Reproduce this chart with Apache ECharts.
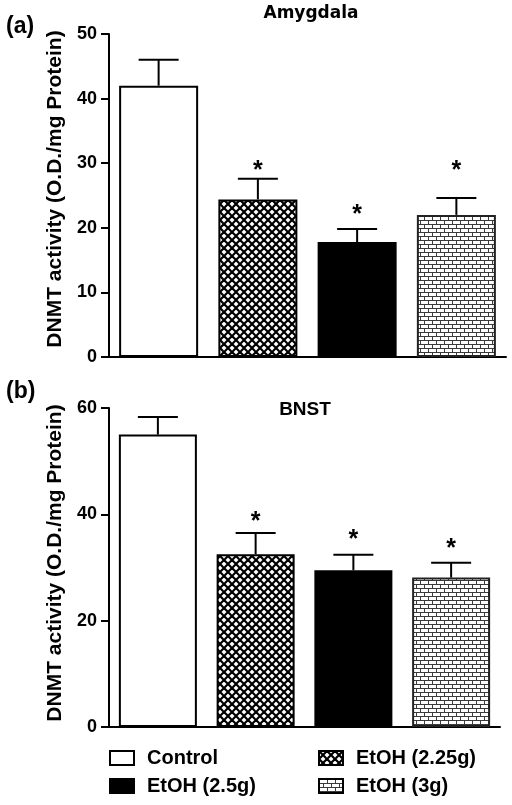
<!DOCTYPE html>
<html>
<head>
<meta charset="utf-8">
<script src="https://cdn.jsdelivr.net/npm/echarts@6/dist/echarts.min.js"></script>
<style>
html,body{margin:0;padding:0;background:#fff;}
#c{width:512px;height:805px;}
</style>
</head>
<body>
<div id="c"></div>
<script>
// ---- data ----
var groups = ['Control', 'EtOH (2.25g)', 'EtOH (2.5g)', 'EtOH (3g)'];
var amygdalaMean = [42.0, 24.4, 17.8, 22.0];
var amygdalaSem  = [4.0, 3.2, 2.0, 2.6];
var amygdalaStar = [null, 29.5, 22.8, 29.5];
var bnstMean = [55.0, 32.5, 29.5, 28.1];
var bnstSem  = [3.3, 4.0, 2.9, 2.8];
var bnstStar = [null, 39.5, 36.1, 34.4];
var amygdalaTicks = [0, 10, 20, 30, 40, 50];
var bnstTicks = [0, 20, 40, 60];
var yName = 'DNMT activity (O.D./mg Protein)';

// ---- patterns ----
function crossHatch() {
  var c = document.createElement('canvas'); c.width = 8; c.height = 8;
  var g = c.getContext('2d');
  g.fillStyle = '#fff'; g.fillRect(0, 0, 8, 8);
  g.strokeStyle = '#000'; g.lineWidth = 2.2;
  [-8, 0, 8].forEach(function (k) {
    g.beginPath(); g.moveTo(k, 0); g.lineTo(k + 8, 8); g.stroke();
    g.beginPath(); g.moveTo(k + 8, 0); g.lineTo(k, 8); g.stroke();
  });
  return { image: c, repeat: 'repeat' };
}
function brick() {
  var c = document.createElement('canvas'); c.width = 16; c.height = 8;
  var g = c.getContext('2d');
  g.fillStyle = '#fff'; g.fillRect(0, 0, 16, 8);
  g.fillStyle = '#3a3a3a';
  g.fillRect(0, 0, 16, 1); g.fillRect(0, 4, 16, 1);
  g.fillRect(0, 0, 1, 4); g.fillRect(8, 0, 1, 4);
  g.fillRect(4, 4, 1, 4); g.fillRect(12, 4, 1, 4);
  return { image: c, repeat: 'repeat' };
}
var fills = ['#ffffff', crossHatch(), '#000000', brick()];
var borders = ['#000', '#000', '#000', '#222'];

var FONT = 'Liberation Sans';

function barSeries(means, axisIdx, bw) {
  return groups.map(function (name, gi) {
    return {
      type: 'bar', name: name, xAxisIndex: axisIdx, yAxisIndex: axisIdx,
      barWidth: bw, barGap: '-100%',
      data: means.map(function (v, i) { return i === gi ? v : '-'; }),
      itemStyle: { color: fills[gi], borderColor: borders[gi], borderWidth: 2 },
      emphasis: { disabled: true }, animation: false
    };
  });
}
function errSeries(means, sems, stars, axisIdx) {
  return {
    type: 'custom', xAxisIndex: axisIdx, yAxisIndex: axisIdx, z: 5, animation: false,
    silent: true,
    data: means.map(function (m, i) { return [i, m, sems[i]]; }),
    renderItem: function (params, api) {
      var x = api.value(0), m = api.value(1), s = api.value(2);
      var p0 = api.coord([x, m]), p1 = api.coord([x, m + s]);
      var cw = 40;
      var ch = [
        { type: 'line', shape: { x1: p0[0], y1: p0[1], x2: p1[0], y2: p1[1] }, style: { stroke: '#000', lineWidth: 2 } },
        { type: 'line', shape: { x1: p1[0] - cw / 2, y1: p1[1], x2: p1[0] + cw / 2, y2: p1[1] }, style: { stroke: '#000', lineWidth: 2 } }
      ];
      var st = stars[params.dataIndex];
      if (st != null) {
        var ps = api.coord([x, st]);
        ch.push({ type: 'text', x: ps[0], y: ps[1] + 5,
          style: { text: '*', fill: '#000', font: 'bold 25px ' + FONT, align: 'center', verticalAlign: 'middle' } });
      }
      return { type: 'group', children: ch };
    }
  };
}

function yAxis(gridIdx, max, interval, shift) {
  return {
    type: 'value', gridIndex: gridIdx, min: 0, max: max, interval: interval,
    name: yName, nameLocation: 'middle', nameGap: 39,
    nameTextStyle: { fontFamily: FONT, fontWeight: 'bold', fontSize: 21, color: '#000', padding: [0, 0, 0, shift] },
    axisLine: { show: true, lineStyle: { color: '#000', width: 2 } },
    axisTick: { show: true, length: 8, lineStyle: { color: '#000', width: 2 } },
    axisLabel: { margin: 12, fontFamily: FONT, fontWeight: 'bold', fontSize: 18, color: '#000' },
    splitLine: { show: false }
  };
}
function xAxis(gridIdx) {
  return {
    type: 'category', gridIndex: gridIdx, data: groups,
    axisLine: { show: true, lineStyle: { color: '#000', width: 2 } },
    axisTick: { show: false }, axisLabel: { show: false }
  };
}

var chart = echarts.init(document.getElementById('c'), null, { renderer: 'canvas' });
var legendText = { fontFamily: FONT, fontWeight: 'bold', fontSize: 20, color: '#000', lineHeight: 20, padding: [0, 0, 0, 8] };
chart.setOption({
  backgroundColor: '#fff',
  animation: false,
  title: [
    { text: '(a)', left: 6, top: 15, padding: 0, textStyle: { fontFamily: FONT, fontWeight: 'bold', fontSize: 23, color: '#000' } },
    { text: 'Amygdala', left: 311, top: 5, padding: 0, textAlign: 'center', textStyle: { fontFamily: 'DejaVu Sans', fontWeight: 'bold', fontSize: 17, color: '#000' } },
    { text: '(b)', left: 6, top: 380, padding: 0, textStyle: { fontFamily: FONT, fontWeight: 'bold', fontSize: 23, color: '#000' } },
    { text: 'BNST', left: 305, top: 400, padding: 0, textAlign: 'center', textStyle: { fontFamily: FONT, fontWeight: 'bold', fontSize: 19, color: '#000' } }
  ],
  grid: [
    { left: 109, right: 6, top: 34, bottom: 448 },
    { left: 109, right: 12, top: 408, bottom: 78 }
  ],
  xAxis: [xAxis(0), xAxis(1)],
  yAxis: [yAxis(0, amygdalaTicks[amygdalaTicks.length - 1], amygdalaTicks[1] - amygdalaTicks[0], 13),
          yAxis(1, bnstTicks[bnstTicks.length - 1], bnstTicks[1] - bnstTicks[0], 9)],
  legend: [
    { data: [groups[0], groups[2]], orient: 'vertical', left: 109, top: 748, padding: 0, itemGap: 8,
      itemWidth: 24, itemHeight: 14, icon: 'rect', selectedMode: false,
      itemStyle: { borderColor: '#000', borderWidth: 2 }, textStyle: legendText },
    { data: [groups[1], groups[3]], orient: 'vertical', left: 318, top: 748, padding: 0, itemGap: 8,
      itemWidth: 24, itemHeight: 14, icon: 'rect', selectedMode: false,
      itemStyle: { borderColor: '#000', borderWidth: 2 }, textStyle: legendText }
  ],
  series: [].concat(
    barSeries(amygdalaMean, 0, 79),
    [errSeries(amygdalaMean, amygdalaSem, amygdalaStar, 0)],
    barSeries(bnstMean, 1, 78),
    [errSeries(bnstMean, bnstSem, bnstStar, 1)]
  )
});
</script>
</body>
</html>
